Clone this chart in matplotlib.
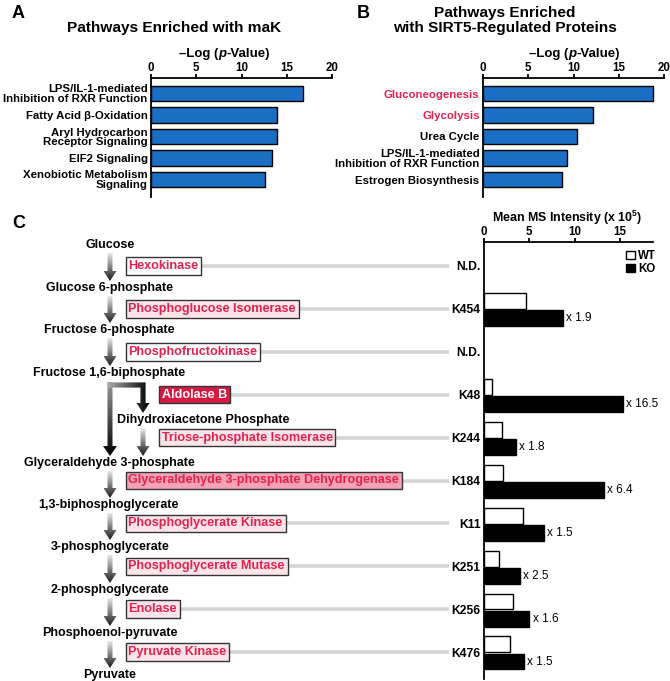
import numpy as np
import matplotlib.pyplot as plt
from matplotlib.patches import Polygon
from matplotlib.colors import LinearSegmentedColormap

plt.rcParams['font.family'] = ['Liberation Sans', 'DejaVu Sans']
plt.rcParams['mathtext.fontset'] = 'custom'
plt.rcParams['mathtext.rm'] = 'Liberation Sans'
plt.rcParams['mathtext.bf'] = 'Liberation Sans:bold'
plt.rcParams['mathtext.default'] = 'bf'

# ---- data ----
a_labels = ['LPS/IL-1-mediated\nInhibition of RXR Function', 'Fatty Acid \u03b2-Oxidation',
            'Aryl Hydrocarbon\nReceptor Signaling', 'EIF2 Signaling',
            'Xenobiotic Metabolism\nSignaling']
a_values = [16.8, 13.9, 13.9, 13.4, 12.6]

b_labels = ['Gluconeogenesis', 'Glycolysis', 'Urea Cycle',
            'LPS/IL-1-mediated\nInhibition of RXR Function', 'Estrogen Biosynthesis']
b_values = [18.8, 12.2, 10.4, 9.3, 8.7]
b_red = ['Gluconeogenesis', 'Glycolysis']

metabolites = ['Glucose', 'Glucose 6-phosphate', 'Fructose 6-phosphate',
               'Fructose 1,6-biphosphate', 'Dihydroxiacetone Phosphate',
               'Glyceraldehyde 3-phosphate', '1,3-biphosphoglycerate',
               '3-phosphoglycerate', '2-phosphoglycerate', 'Phosphoenol-pyruvate', 'Pyruvate']
enzymes = ['Hexokinase', 'Phosphoglucose Isomerase', 'Phosphofructokinase', 'Aldolase B',
           'Triose-phosphate Isomerase', 'Glyceraldehyde 3-phosphate Dehydrogenase',
           'Phosphoglycerate Kinase', 'Phosphoglycerate Mutase', 'Enolase', 'Pyruvate Kinase']
sites = ['N.D.', 'K454', 'N.D.', 'K48', 'K244', 'K184', 'K11', 'K251', 'K256', 'K476']
wt = [None, 4.6, None, 0.93, 2.0, 2.05, 4.3, 1.6, 3.2, 2.9]
ko = [None, 8.7, None, 15.3, 3.5, 13.2, 6.6, 4.0, 5.0, 4.4]
fold = [None, 'x 1.9', None, 'x 16.5', 'x 1.8', 'x 6.4', 'x 1.5', 'x 2.5', 'x 1.6', 'x 1.5']

# ---- layout (pixels) ----
W, H = 670, 681
BLUE = '#1a6ec4'
RED = '#e2224e'
enz_fill = ['white', '#fde4ea', 'white', '#d81a42', '#fde4ea', '#f4a3b6',
            '#fde4ea', '#fde4ea', '#fde4ea', '#fde4ea']
enz_x = [125, 125, 125, 158, 158, 125, 125, 125, 125, 125]
met_x = [110, 109, 109, 109, 203, 109, 108, 110, 110, 110, 110]
met_y = [245, 288, 330, 373, 420, 463, 505, 547, 590, 633, 675]
row0, rowstep = 266, 42.9

fig = plt.figure(figsize=(W / 100, H / 100), dpi=100)
dax = fig.add_axes([0, 0, 1, 1])
dax.set_xlim(0, W)
dax.set_ylim(H, 0)
dax.axis('off')


def px_axes(x0, y0, x1, y1):
    ax = fig.add_axes([x0 / W, 1 - y1 / H, (x1 - x0) / W, (y1 - y0) / H])
    ax.set_facecolor('none')
    return ax


def style_top(ax, ticks):
    ax.xaxis.tick_top()
    ax.set_xticks(ticks)
    for s in ['right', 'bottom']:
        ax.spines[s].set_visible(False)
    for s in ['top', 'left']:
        ax.spines[s].set_linewidth(1.3)
    ax.tick_params(axis='x', length=3, width=1.3, pad=0, labelsize=8.3)
    ax.tick_params(axis='y', length=0, pad=2.5)
    for t in ax.get_xticklabels():
        t.set_fontweight('bold')


def enrich(rect, labels, values, red):
    ax = px_axes(*rect)
    y = np.arange(len(values))
    ax.barh(y, values, height=0.7, color=BLUE, edgecolor='black', linewidth=1)
    ax.set_xlim(0, 20)
    ax.set_ylim((rect[3] - 93.5) / 21.5, (rect[1] - 93.5) / 21.5)
    ax.set_yticks(y, labels)
    style_top(ax, [0, 5, 10, 15, 20])
    for t in ax.get_yticklabels():
        t.set_fontweight('bold')
        t.set_fontsize(8.2)
        t.set_linespacing(0.98)
        if t.get_text() in red:
            t.set_color(RED)
    return ax


def xlabel_p(x, y):
    t1 = dax.text(x, y, '\u2013Log (', fontsize=9.5, fontweight='bold', va='baseline')
    t2 = dax.annotate('p', xy=(1, 0), xycoords=t1, va='bottom', fontsize=9.5,
                      fontweight='bold', fontstyle='italic')
    dax.annotate('-Value)', xy=(1, 0), xycoords=t2, va='bottom', fontsize=9.5,
                 fontweight='bold')


# ---- panel A ----
dax.text(12, 13, 'A', fontsize=13, fontweight='bold', va='center')
dax.text(174, 28, 'Pathways Enriched with maK', fontsize=11.1, fontweight='bold',
         ha='center', va='center')
enrich((151, 78, 332, 197), a_labels, a_values, [])
xlabel_p(179, 57)

# ---- panel B ----
dax.text(357, 13, 'B', fontsize=13, fontweight='bold', va='center')
dax.text(505, 20.5, 'Pathways Enriched\nwith SIRT5-Regulated Proteins', fontsize=11.1,
         fontweight='bold', ha='center', va='center', linespacing=1.05)
enrich((483, 78, 664, 197), b_labels, b_values, b_red)
xlabel_p(529, 57)

# ---- panel C: pathway ----
dax.text(12, 223, 'C', fontsize=13, fontweight='bold', va='center')
for name, x, y in zip(metabolites, met_x, met_y):
    dax.text(x, y, name, fontsize=9, fontweight='bold', ha='center', va='center')

for i, name in enumerate(enzymes):
    y = row0 + rowstep * i
    dax.plot([enz_x[i] + 5, 449], [y, y], color='#d4d4d4', lw=2.6, zorder=1,
             solid_capstyle='butt')
    dax.text(enz_x[i] + 3.5, y, name, fontsize=9.1, fontweight='bold', va='center',
             color='white' if name == 'Aldolase B' else RED, zorder=3,
             bbox=dict(boxstyle='square,pad=0.22', fc=enz_fill[i], ec='#333333', lw=1))


def gradient_fill(poly_pts, extent, grad, c0, c1):
    poly = Polygon(poly_pts, closed=True, fc='none', ec='none')
    dax.add_patch(poly)
    cmap = LinearSegmentedColormap.from_list('g', [c0, c1])
    im = dax.imshow(grad, cmap=cmap, extent=extent, aspect='auto',
                    interpolation='bilinear', zorder=2)
    im.set_clip_path(poly)


def down_arrow(x, y0, y1, c0='#e8e8e8', c1='#1a1a1a', shaft=5, head=13, hl=10):
    pts = [(x - shaft / 2, y0), (x + shaft / 2, y0), (x + shaft / 2, y1 - hl),
           (x + head / 2, y1 - hl), (x, y1), (x - head / 2, y1 - hl), (x - shaft / 2, y1 - hl)]
    gradient_fill(pts, (x - head / 2, x + head / 2, y1, y0),
                  np.linspace(0, 1, 100).reshape(-1, 1), c0, c1)


# main column arrows
for y0, y1 in [(253, 281), (296, 323), (338, 366), (471, 498), (513, 540),
               (555, 583), (598, 626), (641, 668)]:
    down_arrow(110, y0, y1)
# aldolase split
down_arrow(110, 382, 456, c0='#9a9a9a', c1='#000000', head=14)
w, hw, hl = 2.6, 6.5, 10
lp = [(110 - w, 385 - w), (143 + w, 385 - w), (143 + w, 413 - hl), (143 + hw, 413 - hl),
      (143, 413), (143 - hw, 413 - hl), (143 - w, 413 - hl), (143 - w, 385 + w), (110 - w, 385 + w)]
gradient_fill(lp, (110 - w, 143 + hw, 413, 385 - w), np.linspace(0, 1, 100).reshape(1, -1),
              '#b0b0b0', '#000000')
down_arrow(143, 428, 456)
dax.set_xlim(0, W)
dax.set_ylim(H, 0)

# ---- panel C: bars ----
cax = px_axes(484, 242, 653, 679)
rows = np.arange(len(sites))
wt_rows = [r for r, v in zip(rows, wt) if v is not None]
wt_vals = [v for v in wt if v is not None]
ko_vals = [v for v in ko if v is not None]
cax.barh(np.array(wt_rows) - 0.18, wt_vals, height=0.37, color='white', edgecolor='black',
         linewidth=1, label='WT')
cax.barh(np.array(wt_rows) + 0.22, ko_vals, height=0.37, color='black', edgecolor='black',
         linewidth=1, label='KO')
for r, v, f in zip(rows, ko, fold):
    if v is not None:
        cax.text(v + 0.35, r + 0.22, f, fontsize=8.5, va='center')
cax.set_xlim(0, (653 - 484) / 9.07)
cax.set_ylim((679 - row0) / rowstep, (242 - row0) / rowstep)
cax.set_yticks(rows, sites)
style_top(cax, [0, 5, 10, 15])
for t in cax.get_yticklabels():
    t.set_fontweight('bold')
    t.set_fontsize(8.7)
dax.text(567, 218, r'Mean MS Intensity (x 10$^{5}$)', fontsize=8.9, fontweight='bold',
         ha='center', va='center')
cax.legend(loc='upper right', bbox_to_anchor=(662 / W, 1 - 244 / H),
           bbox_transform=fig.transFigure, frameon=False, handlelength=0.75,
           handleheight=0.75, handletextpad=0.3, labelspacing=0.1, borderpad=0,
           prop={'weight': 'bold', 'size': 8.3})

fig.savefig('out.png', dpi=100)
